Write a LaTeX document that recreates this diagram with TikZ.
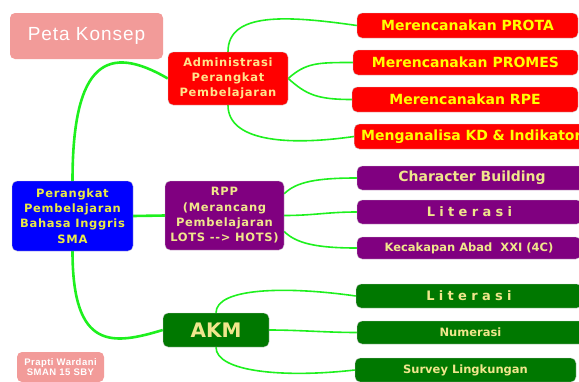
\documentclass[tikz,border=0pt]{standalone}
\usepackage{fontspec}
\setmainfont{DejaVu Sans}
\newfontfamily\judulfont{Liberation Sans}[LetterSpace=5]
\newfontfamily\spasifont{DejaVu Sans}[LetterSpace=6]
\newfontfamily\literfont{DejaVu Sans}[LetterSpace=33]
\usetikzlibrary{backgrounds}
\definecolor{merahbox}{RGB}{255,0,0}
\definecolor{kuningteks}{RGB}{255,255,0}
\definecolor{krem}{RGB}{255,228,140}
\definecolor{unguboks}{RGB}{128,0,128}
\definecolor{khakiteks}{RGB}{240,230,140}
\definecolor{birubox}{RGB}{0,0,255}
\definecolor{kuningbiru}{RGB}{235,235,70}
\definecolor{hijauboks}{RGB}{0,120,0}
\definecolor{pinkboks}{RGB}{242,155,153}
\definecolor{garishijau}{RGB}{30,240,30}
\begin{document}
\begin{tikzpicture}[x=1pt, y=-1pt,
            kotak/.style={rectangle, rounded corners=5pt, draw=black!20, line width=0.4pt, inner sep=0pt, align=center},
            merah/.style={kotak, fill=merahbox, text=kuningteks, minimum height=25pt, font=\fontsize{14}{16}\selectfont\bfseries},
            ungu/.style={kotak, fill=unguboks, text=khakiteks, minimum height=24pt},
            hijau/.style={kotak, fill=hijauboks, text=khakiteks, minimum height=24pt},
            merahmuda/.style={kotak, fill=pinkboks, text=white, draw=none},
            induk/.style={kotak, font=\spasifont\fontsize{11.5}{15.3}\selectfont\bfseries},
            utama/.style={draw=garishijau, line width=2.6pt},
            cabang/.style={draw=garishijau, line width=1.6pt}
        ]
            \useasboundingbox (0,0) rectangle (579,381);
            \node(petanode) at (86.5,36) [merahmuda, minimum width=153pt, minimum height=46pt, font=\judulfont\fontsize{19}{21}\selectfont] {Peta Konsep};
            \node(praptinode) at (60.5,367) [merahmuda, minimum width=87pt, minimum height=30pt, font=\judulfont\fontsize{9.5}{10}\selectfont\bfseries] {Prapti Wardani\\SMAN 15 SBY};
            \node(pusatnode) at (72.5,216) [induk, fill=birubox, text=kuningbiru, minimum width=121pt, minimum height=70pt] {Perangkat\\Pembelajaran\\Bahasa Inggris\\SMA};
            \node(adminnode) at (228,78.5) [induk, fill=merahbox, text=krem, minimum width=120pt, minimum height=53pt] {Administrasi\\Perangkat\\Pembelajaran};
            \node(rppnode) at (224.5,215.5) [induk, fill=unguboks, text=khakiteks, minimum width=119pt, minimum height=69pt] {RPP\\(Merancang\\Pembelajaran\\LOTS -{}-> HOTS)};
            \node(akmnode) at (216,330) [hijau, minimum width=106pt, minimum height=34pt, font=\fontsize{20}{22}\selectfont\bfseries] {AKM};
            \node(protanode) at (467.5,25.5) [merah, minimum width=221pt] {Merencanakan PROTA};
            \node(promesnode) at (465.5,62.5) [merah, minimum width=225pt] {Merencanakan PROMES};
            \node(rpenode) at (465,99.5) [merah, minimum width=226pt] {Merencanakan RPE};
            \node(kdnode) at (354,136.5) [merah, anchor=west, minimum width=240pt, text width=226pt, align=left, inner xsep=7pt] {Menganalisa KD \& Indikator};
            \node(charnode) at (472,178) [ungu, minimum width=230pt, font=\fontsize{14}{16}\selectfont\bfseries] {Character Building};
            \node(literungunode) at (469.5,212) [ungu, minimum width=225pt, font=\literfont\fontsize{13}{16}\selectfont\bfseries] {Literasi};
            \node(kecakapannode) at (469,248) [ungu, minimum width=224pt, minimum height=22pt, font=\fontsize{11.5}{14}\selectfont\bfseries] {Kecakapan Abad~~XXI (4C)};
            \node(literhijaunode) at (469,296) [hijau, minimum width=226pt, font=\literfont\fontsize{13}{16}\selectfont\bfseries] {Literasi};
            \node(numerasinode) at (470.5,332.5) [hijau, minimum width=227pt, minimum height=23pt, font=\fontsize{11.5}{14}\selectfont\bfseries] {Numerasi};
            \node(surveynode) at (465.5,370) [hijau, minimum width=221pt, font=\fontsize{11.5}{14}\selectfont\bfseries] {Survey Lingkungan};
            \begin{scope}[on background layer]
                \draw[utama] (pusatnode.north) .. controls +(0,-120) and +(-60,-35) .. (adminnode.west);
                \draw[utama] (pusatnode.east) -- (rppnode.west);
                \draw[utama] (pusatnode.south) .. controls +(0,100) and +(-50,15) .. (akmnode.west);
                \draw[cabang] (adminnode.north) .. controls +(0,-40) and +(-70,-10) .. (protanode.west);
                \draw[cabang] (adminnode.east) .. controls +(18,-16) and +(-35,0) .. (promesnode.west);
                \draw[cabang] (adminnode.east) .. controls +(18,16) and +(-35,0) .. (rpenode.west);
                \draw[cabang] (adminnode.south) .. controls +(0,35) and +(-70,10) .. (kdnode.west);
                \draw[cabang] (rppnode.20) .. controls +(12,-12) and +(-40,0) .. (charnode.west);
                \draw[cabang] (rppnode.east) .. controls +(30,0) and +(-30,0) .. (literungunode.west);
                \draw[cabang] (rppnode.-15) .. controls +(12,12) and +(-40,0) .. (kecakapannode.west);
                \draw[cabang] (akmnode.north) .. controls +(0,-25) and +(-70,-10) .. (literhijaunode.west);
                \draw[cabang] (akmnode.east) .. controls +(30,0) and +(-30,0) .. (numerasinode.west);
                \draw[cabang] (akmnode.south) .. controls +(0,25) and +(-70,8) .. (surveynode.west);
            \end{scope}
        \end{tikzpicture}
\end{document}
